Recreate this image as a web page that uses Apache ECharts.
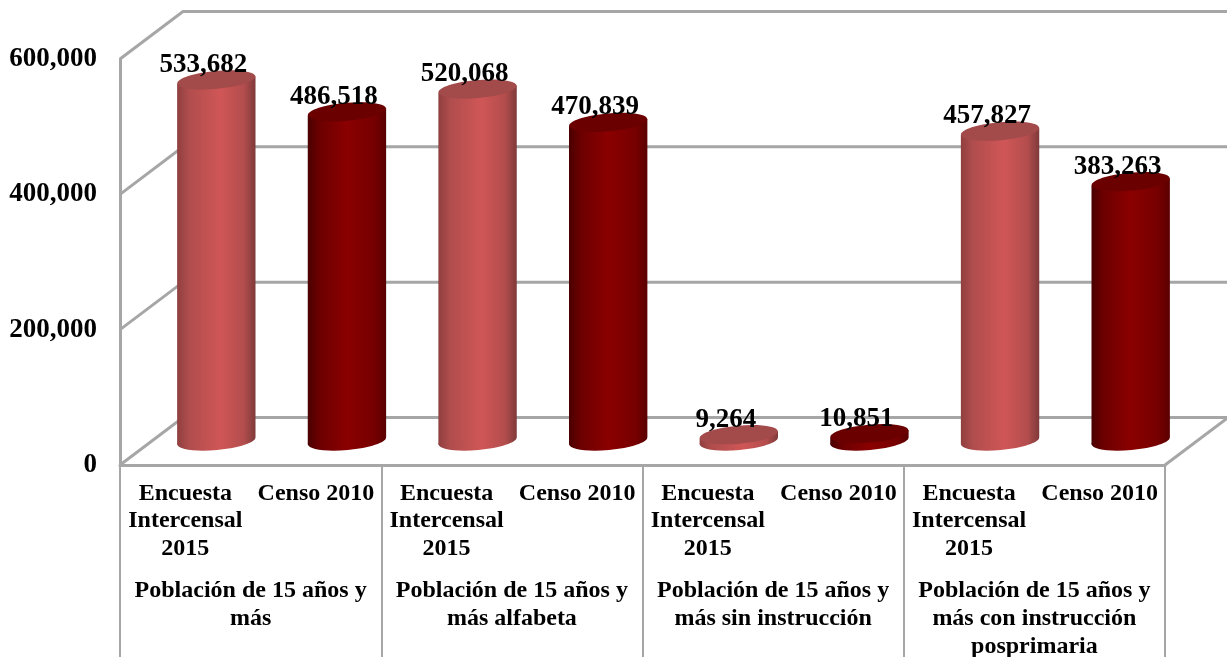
<!DOCTYPE html>
<html>
<head>
<meta charset="utf-8">
<title>Población de 15 años y más</title>
<script src="https://cdn.jsdelivr.net/npm/echarts@6/dist/echarts.min.js"></script>
<style>
  html, body { margin: 0; padding: 0; background: #fff; }
  #chart { width: 1227px; height: 657px; }
</style>
</head>
<body>
<div id="chart"></div>
<script>
var subCategories = [
  "Encuesta\nIntercensal\n2015", "Censo 2010",
  "Encuesta\nIntercensal\n2015", "Censo 2010",
  "Encuesta\nIntercensal\n2015", "Censo 2010",
  "Encuesta\nIntercensal\n2015", "Censo 2010"
];
var groups = [
  "Población de 15 años y\nmás",
  "Población de 15 años y\nmás alfabeta",
  "Población de 15 años y\nmás sin instrucción",
  "Población de 15 años y\nmás con instrucción\nposprimaria"
];
var encuesta = [533682, 520068, 9264, 457827];
var censo = [486518, 470839, 10851, 383263];
var yTicks = [0, 200000, 400000, 600000];

var FONT = '"Liberation Serif", "Times New Roman", serif';
var GREY = "#a6a6a6";
// 3d look: back wall is shifted from the front plane, bars sit half way
var WALL_DX = 63, WALL_DY = -47.5;
var BAR_DX = 31, BAR_DY = -24;
var TILT = 0.09;

function fmt(v) {
  return v.toLocaleString("en-US");
}

function hGrad(stops) {
  return new echarts.graphic.LinearGradient(0, 0, 1, 0, stops.map(function (c) {
    return { offset: c[0], color: c[1] };
  }));
}

function renderWall(params, api) {
  var cs = params.coordSys;
  var y = api.coord([0, api.value(1)])[1];
  var pts = [
    [cs.x, y],
    [cs.x + WALL_DX, y + WALL_DY],
    [cs.x + cs.width + WALL_DX, y + WALL_DY]
  ];
  var children = [{
    type: "polyline",
    shape: { points: pts },
    style: { stroke: GREY, lineWidth: 3, fill: null }
  }];
  if (api.value(1) === 0) {
    children.push({
      type: "line",
      shape: { x1: cs.x + cs.width, y1: y, x2: cs.x + cs.width + WALL_DX, y2: y + WALL_DY },
      style: { stroke: GREY, lineWidth: 3 }
    });
  }
  return { type: "group", children: children };
}

function cylinderRenderer(side, top) {
  return function (params, api) {
    var p = api.coord([api.value(0), api.value(1)]);
    var base = api.coord([api.value(0), 0]);
    var band = api.size([1, 0])[0];
    var rx = band * 0.3, ry = 9;
    var t = rx * Math.sin(TILT);
    var cx = p[0] + BAR_DX;
    var yTop = p[1] + BAR_DY;
    var yBot = base[1] + BAR_DY;
    var fill = hGrad(side);
    return {
      type: "group",
      children: [
        {
          type: "ellipse", x: cx, y: yBot, rotation: TILT,
          shape: { cx: 0, cy: 0, rx: rx, ry: ry },
          style: { fill: fill }
        },
        {
          type: "polygon",
          shape: { points: [[cx - rx, yTop + t], [cx + rx, yTop - t], [cx + rx, yBot - t], [cx - rx, yBot + t]] },
          style: { fill: fill }
        },
        {
          type: "ellipse", x: cx, y: yTop, rotation: TILT,
          shape: { cx: 0, cy: 0, rx: rx, ry: ry },
          style: { fill: top }
        },
        {
          type: "text", z2: 50,
          x: cx - 13, y: yTop - 15,
          style: {
            text: fmt(api.value(1)), fill: "#000",
            font: "bold 27px " + FONT, align: "center", verticalAlign: "middle"
          }
        }
      ]
    };
  };
}

var lightSide = [[0, "#8f3f3f"], [0.15, "#b04d4d"], [0.55, "#d05656"], [0.85, "#b34d4d"], [1, "#7f3a3a"]];
var darkSide = [[0, "#4a0000"], [0.15, "#6c0000"], [0.5, "#8b0000"], [0.85, "#760000"], [1, "#5a0000"]];

var encuestaData = encuesta.map(function (v, i) { return [i * 2, v]; });
var censoData = censo.map(function (v, i) { return [i * 2 + 1, v]; });

var chart = echarts.init(document.getElementById("chart"));
chart.setOption({
  animation: false,
  backgroundColor: "#fff",
  grid: { left: 120, right: 62, top: 59, bottom: 192, outerBoundsMode: "none" },
  xAxis: [
    {
      type: "category",
      data: subCategories,
      position: "bottom",
      axisLine: { show: true, lineStyle: { color: GREY, width: 3 } },
      axisTick: { show: false },
      axisLabel: {
        interval: 0, margin: 15, color: "#000",
        fontFamily: FONT, fontWeight: "bold", fontSize: 24, lineHeight: 27.5
      }
    },
    {
      type: "category",
      data: groups,
      position: "bottom",
      axisLine: { show: false },
      axisTick: { show: true, length: 192, lineStyle: { color: GREY, width: 2 } },
      axisLabel: {
        interval: 0, margin: 112, color: "#000",
        fontFamily: FONT, fontWeight: "bold", fontSize: 24, lineHeight: 28
      }
    }
  ],
  yAxis: {
    type: "value",
    min: 0,
    max: 600000,
    interval: 200000,
    splitLine: { show: false },
    axisTick: { show: false },
    axisLine: { show: true, lineStyle: { color: GREY, width: 3 } },
    axisLabel: {
      margin: 23, color: "#000", fontFamily: FONT, fontWeight: "bold", fontSize: 27,
      formatter: function (v) { return fmt(v); }
    }
  },
  series: [
    {
      type: "custom", name: "walls", silent: true, clip: false, z: 1,
      renderItem: renderWall,
      data: yTicks.map(function (v) { return [0, v]; })
    },
    {
      type: "custom", name: "Encuesta Intercensal 2015", clip: false, z: 2,
      renderItem: cylinderRenderer(lightSide, "#a34a4a"),
      data: encuestaData
    },
    {
      type: "custom", name: "Censo 2010", clip: false, z: 2,
      renderItem: cylinderRenderer(darkSide, "#6a0000"),
      data: censoData
    }
  ]
});
</script>
</body>
</html>
